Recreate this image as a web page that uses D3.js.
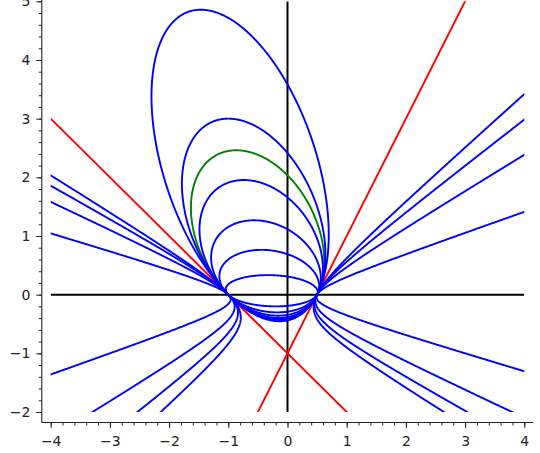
<!DOCTYPE html>
<html><head><meta charset="utf-8">
<script src="https://cdn.jsdelivr.net/npm/d3@7"></script>
<style>body{margin:0;background:#fff}svg{display:block}</style>
</head><body>
<svg id="c" width="540" height="453"></svg>
<script>
// ---- data ----
// two red lines a*x + b*y + c = 0  (y = -x - 1 and y = 2x - 1)
const redLines = [[1, 1, 1], [-2, 1, 1]];
// pencil of conics: L1*L2 + (mu - 1)*y^2 = 0, mu values per curve
const hyperbolaMu = [3.58, 4.6, 7, 19];
const ellipseMu = [-0.636, -1, -1.571, -2.6, -5, -17];
const greenMu = [-1.225];
const xTicks = [-4, -3, -2, -1, 0, 1, 2, 3, 4];
const yTicks = [-2, -1, 0, 1, 2, 3, 4, 5];
const xMinor = d3.range(-4, 4.01, 0.2);
const yMinor = d3.range(-2, 5.01, 0.2);

// ---- layout ----
const svg = d3.select("#c");
const x = d3.scaleLinear().domain([-4, 4]).range([50.7, 524.3]);
const y = d3.scaleLinear().domain([-2, 5]).range([412, 1.3]);
const xL = x.invert(41.8), xR = x.invert(533), yB = y.invert(422.5);

svg.append("clipPath").attr("id", "clip").append("rect")
  .attr("x", x(-4)).attr("y", y(5)).attr("width", x(4) - x(-4)).attr("height", y(-2) - y(5));
const plot = svg.append("g").attr("clip-path", "url(#clip)");

// black lines (x = 0 and y = 0)
plot.append("line").attr("x1", x(-4)).attr("x2", x(4)).attr("y1", y(0)).attr("y2", y(0))
  .attr("stroke", "#000").attr("stroke-width", 2);
plot.append("line").attr("x1", x(0)).attr("x2", x(0)).attr("y1", y(-2)).attr("y2", y(5))
  .attr("stroke", "#000").attr("stroke-width", 2);

// red lines
const line = d3.line().x(d => x(d[0])).y(d => y(d[1]));
redLines.forEach(([a, b, c]) => {
  const pts = [-4, 4].map(xx => [xx, -(a * xx + c) / b]);
  plot.append("path").attr("d", line(pts)).attr("fill", "none")
    .attr("stroke", "#ff0000").attr("stroke-width", 1.9);
});

// conics via contours
const gx0 = -4.3, gy0 = -2.3, step = 0.01;
const nx = Math.round(8.6 / step), ny = Math.round(7.6 / step);
const L = (l, xx, yy) => l[0] * xx + l[1] * yy + l[2];
const proj = d3.geoTransform({
  point: function (gx, gy) {
    this.stream.point(x(gx0 + (gx - 0.5) * step), y(gy0 + (gy - 0.5) * step));
  }
});
const gpath = d3.geoPath(proj);
function conic(mu, color) {
  const vals = new Float64Array(nx * ny);
  for (let j = 0; j < ny; j++) {
    const yy = gy0 + j * step;
    for (let i = 0; i < nx; i++) {
      const xx = gx0 + i * step;
      vals[j * nx + i] = L(redLines[0], xx, yy) * L(redLines[1], xx, yy) + (mu - 1) * yy * yy;
    }
  }
  const cs = d3.contours().size([nx, ny]).thresholds([0])(vals);
  plot.append("path").attr("d", gpath(cs[0])).attr("fill", "none")
    .attr("stroke", color).attr("stroke-width", 1.9).attr("stroke-linejoin", "round");
}
greenMu.forEach(m => conic(m, "#008000"));
hyperbolaMu.concat(ellipseMu).forEach(m => conic(m, "#0000ff"));

// ---- axes ----
const font = "DejaVu Sans, sans-serif";
const ax = svg.append("g");
ax.append("line").attr("x1", 41.8).attr("x2", 533).attr("y1", 422.5).attr("y2", 422.5)
  .attr("stroke", "#222").attr("stroke-width", 1.1);
ax.append("line").attr("x1", 41.8).attr("x2", 41.8).attr("y1", 422.5).attr("y2", -5)
  .attr("stroke", "#222").attr("stroke-width", 1.1);

const fmt = d => (d < 0 ? "\u2212" + (-d) : "" + d);
const xa = svg.append("g").attr("transform", "translate(0,422.5)")
  .call(d3.axisBottom(x).tickValues(xMinor).tickSize(3).tickFormat(""));
xa.select(".domain").remove();
const xa2 = svg.append("g").attr("transform", "translate(0,422.5)")
  .call(d3.axisBottom(x).tickValues(xTicks).tickSize(5.5).tickPadding(8.3).tickFormat(fmt));
xa2.select(".domain").remove();
const ya = svg.append("g").attr("transform", "translate(41.8,0)")
  .call(d3.axisLeft(y).tickValues(yMinor).tickSize(3).tickFormat(""));
ya.select(".domain").remove();
const ya2 = svg.append("g").attr("transform", "translate(41.8,0)")
  .call(d3.axisLeft(y).tickValues(yTicks).tickSize(5.5).tickPadding(6).tickFormat(fmt));
ya2.select(".domain").remove();
svg.selectAll(".tick line").attr("stroke", "#222").attr("stroke-width", 1);
svg.selectAll(".tick text").attr("font-family", font).attr("font-size", 14).attr("fill", "#222");
</script>
</body></html>
